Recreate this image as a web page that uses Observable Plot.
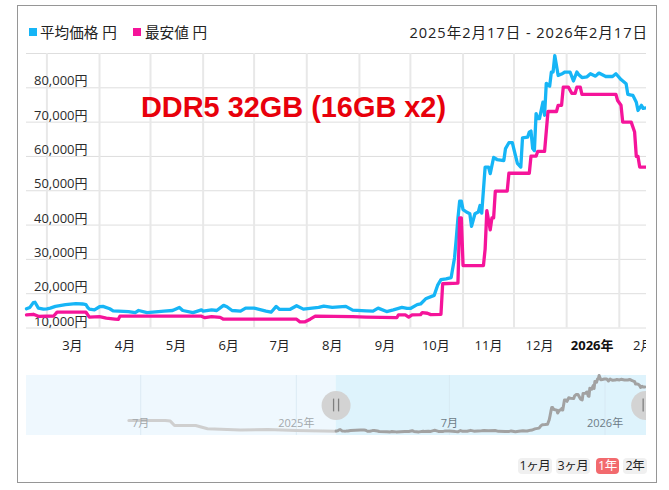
<!DOCTYPE html>
<html><head><meta charset="utf-8">
<script src="https://cdn.jsdelivr.net/npm/d3@7"></script>
<script src="https://cdn.jsdelivr.net/npm/@observablehq/plot@0.6"></script>
<style>
html,body{margin:0;padding:0;background:#fff}
#page{position:relative;width:669px;height:490px;overflow:hidden;font-family:"Open Sans","Noto Sans CJK JP",sans-serif;color:#222}
#box{position:absolute;left:17px;top:5px;width:638px;height:476px;border:1px solid #969696;box-sizing:content-box}
#main,#nav{position:absolute;left:0}
#main{top:0}#nav{top:370px}
.lg{position:absolute;top:21px;font-size:14.6px;line-height:22px;white-space:nowrap}
.sw{position:absolute;top:28px;width:8px;height:8px}
#range{position:absolute;top:21px;right:21px;font-size:14.6px;line-height:22px;white-space:nowrap;letter-spacing:.95px}
#title{position:absolute;left:141px;top:90px;font:bold 28.9px/34px "Liberation Sans",sans-serif;color:#e8000b;white-space:nowrap}
.btn{position:absolute;top:458px;height:16px;line-height:16px;font-size:12.5px;text-align:center;background:#f0f0f0;border-radius:4px;color:#222;white-space:nowrap;letter-spacing:-.4px}
.btn.on{background:#f26a6e;color:#fff}
</style></head><body>
<div id="page">
<div id="box"></div>
<div id="main"></div><div id="nav"></div>
<div class="sw" style="left:29px;background:#16b5f6"></div><div class="lg" style="left:40px">平均価格 円</div>
<div class="sw" style="left:133px;background:#f5149a"></div><div class="lg" style="left:145px">最安値 円</div>
<div id="range">2025年2月17日 - 2026年2月17日</div>
<div id="title">DDR5 32GB (16GB x2)</div>
<div class="btn" style="left:518px;width:34px">1ヶ月</div>
<div class="btn" style="left:556px;width:34px">3ヶ月</div>
<div class="btn on" style="left:596px;width:23px">1年</div>
<div class="btn" style="left:623px;width:24px">2年</div>
</div>
<script>
const avgPoints = [
["2025-02-17",15600],["2025-02-19",16000],["2025-02-21",17400],["2025-02-22",17500],["2025-02-24",15800],["2025-02-27",15500],
["2025-03-01",15600],["2025-03-03",15800],["2025-03-06",16300],["2025-03-12",16800],["2025-03-18",17100],["2025-03-22",17000],["2025-03-24",16800],["2025-03-25",16000],["2025-03-26",15500],["2025-03-29",15300],
["2025-04-01",16200],["2025-04-03",16300],["2025-04-07",15600],["2025-04-09",15000],["2025-04-18",14800],["2025-04-22",14500],["2025-04-24",15100],["2025-04-29",14500],
["2025-05-09",14900],["2025-05-14",15100],["2025-05-18",16000],["2025-05-20",15100],["2025-05-26",14500],["2025-05-31",15300],
["2025-06-01",14900],["2025-06-06",15300],["2025-06-09",15100],["2025-06-13",16600],["2025-06-15",16200],["2025-06-18",15100],["2025-06-23",14900],["2025-06-26",15800],
["2025-07-01",15800],["2025-07-08",14900],["2025-07-11",14600],["2025-07-14",16300],["2025-07-16",15400],["2025-07-22",15400],["2025-07-26",16500],["2025-07-30",15500],
["2025-08-08",16000],["2025-08-11",16400],["2025-08-16",16000],["2025-08-24",16300],["2025-08-28",15200],
["2025-09-05",15000],["2025-09-09",14900],["2025-09-12",15800],["2025-09-17",14800],["2025-09-21",15300],["2025-09-26",16000],["2025-09-29",15700],
["2025-10-01",15700],["2025-10-05",16800],["2025-10-07",17000],["2025-10-10",18500],["2025-10-15",19500],["2025-10-17",22400],["2025-10-19",24100],["2025-10-22",24300],["2025-10-25",24700],["2025-10-27",30500],["2025-10-28",36000],["2025-10-29",42000],["2025-10-30",47000],["2025-10-31",47000],
["2025-11-01",44500],["2025-11-03",43800],["2025-11-05",43300],["2025-11-06",39600],["2025-11-08",43300],["2025-11-10",43800],["2025-11-11",45700],["2025-11-12",43500],["2025-11-14",56900],["2025-11-16",56900],["2025-11-17",55000],["2025-11-19",59700],["2025-11-21",59100],["2025-11-25",58800],["2025-11-26",62300],["2025-11-28",64000],["2025-11-30",64000],
["2025-12-01",62000],["2025-12-03",58000],["2025-12-05",56900],["2025-12-06",65400],["2025-12-09",65600],["2025-12-10",67100],["2025-12-11",67400],["2025-12-12",62300],["2025-12-13",61700],["2025-12-14",72500],["2025-12-15",71000],["2025-12-16",71000],["2025-12-18",75800],["2025-12-19",72000],["2025-12-20",81300],["2025-12-22",80500],["2025-12-23",84600],["2025-12-24",84600],["2025-12-25",89400],["2025-12-27",83600],["2025-12-29",84000],["2025-12-31",84600],
["2026-01-03",84600],["2026-01-05",82000],["2026-01-07",84600],["2026-01-08",83900],["2026-01-10",83000],["2026-01-13",83200],["2026-01-15",84100],["2026-01-18",83400],["2026-01-20",84300],["2026-01-24",83300],["2026-01-28",83300],["2026-01-30",84100],
["2026-02-02",82400],["2026-02-05",81200],["2026-02-06",78100],["2026-02-08",77900],["2026-02-09",77800],["2026-02-11",75800],["2026-02-12",73400],["2026-02-14",74900],["2026-02-15",74000],["2026-02-17",74200]
];
const minPoints = [
["2025-02-17",13850],["2025-02-21",14000],["2025-02-24",13400],["2025-03-05",13500],["2025-03-07",14600],["2025-03-24",14600],["2025-03-26",13150],
["2025-04-01",13300],["2025-04-05",12900],["2025-04-10",12600],["2025-04-12",12500],["2025-04-13",13440],["2025-05-31",13440],
["2025-06-02",13000],["2025-06-06",13300],["2025-06-11",13100],["2025-06-13",12570],["2025-07-26",12570],["2025-07-28",11800],["2025-07-31",11800],
["2025-08-03",12570],["2025-08-06",13440],["2025-08-28",13300],["2025-09-05",13150],["2025-09-23",13000],["2025-09-24",13850],["2025-09-28",13850],["2025-09-30",13200],
["2025-10-02",13850],["2025-10-07",13900],["2025-10-08",14500],["2025-10-11",14300],["2025-10-13",13900],["2025-10-19",14000],["2025-10-20",22900],["2025-10-29",23100],["2025-10-30",42100],["2025-10-31",42100],
["2025-11-01",28200],["2025-11-13",28200],["2025-11-14",33000],["2025-11-15",44200],["2025-11-17",38600],["2025-11-18",42100],["2025-11-19",42100],["2025-11-20",49900],["2025-11-27",49900],["2025-11-28",55100],
["2025-12-10",55100],["2025-12-11",60100],["2025-12-14",60100],["2025-12-15",61500],["2025-12-19",61500],["2025-12-21",73100],["2025-12-26",73100],["2025-12-27",74900],["2025-12-29",74900],["2025-12-30",80200],
["2026-01-02",80200],["2026-01-04",78400],["2026-01-06",78400],["2026-01-07",80200],["2026-01-09",80200],["2026-01-10",78100],["2026-01-30",78100],["2026-01-31",76300],
["2026-02-02",74900],["2026-02-03",70000],["2026-02-08",70000],["2026-02-10",67100],["2026-02-11",60000],["2026-02-12",60000],["2026-02-13",56900],["2026-02-17",56900]
];
const navEarly = [
["2024-06-17",29600],["2024-07-30",29600],["2024-08-05",28800],["2024-08-10",23000],["2024-09-04",23000],["2024-09-18",18600],["2024-10-27",17000],["2024-11-28",17700],["2025-01-01",16300],["2025-02-17",15500]
];
const yGrid = [10000,20000,30000,40000,50000,60000,70000,80000,90000];
const yLabels = [10000,20000,30000,40000,50000,60000,70000,80000];
const monthStarts = ["2025-03-01","2025-04-01","2025-05-01","2025-06-01","2025-07-01","2025-08-01","2025-09-01","2025-10-01","2025-11-01","2025-12-01","2026-01-01","2026-02-01"];
const monthLabelDates = ["2025-03-16","2025-04-16","2025-05-16","2025-06-16","2025-07-16","2025-08-16","2025-09-16","2025-10-16","2025-11-16","2025-12-16","2026-02-15"];
const monthLabels = ["3月","4月","5月","6月","7月","8月","9月","10月","11月","12月","2月"];
const yearLabelDates = ["2026-01-16"];
const yearLabels = ["2026年"];
const navTickDates = ["2024-07-01","2025-01-01","2025-07-01","2026-01-01"];
const navTickLabels = ["7月","2025年","7月","2026年"];
const navBands = [["2024-02-17","2025-02-17","#eff8fe"],["2025-02-17","2026-02-19","#def3fc"]];
const handleDates = ["2025-02-17","2026-02-18"];
const D = s => new Date(s);
const rows = a => a.map(([d,v]) => ({date:D(d),value:v}));
const mono = '"Open Sans","Noto Sans CJK JP",sans-serif';

const mainPlot = Plot.plot({
  width:646, height:360, marginLeft:26, marginRight:0, marginTop:53, marginBottom:32.5,
  style:{background:"transparent",fontFamily:mono},
  x:{type:"utc",domain:[D("2025-02-17"),D("2026-02-17")],axis:null},
  y:{domain:[10000,90000],axis:null},
  marks:[
    Plot.ruleY(yGrid,{y:d=>d,stroke:"#dedede",strokeWidth:1}),
    Plot.ruleX(monthStarts,{x:D,stroke:"#e8e8e8",strokeWidth:2}),
    Plot.text(yLabels,{y:d=>d,x:()=>D("2025-02-17"),text:d=>d3.format(",")(d)+"円",dx:61,dy:-2.5,textAnchor:"end",lineAnchor:"bottom",fontSize:13,fill:"#2b2b2b"}),
    Plot.line(rows(avgPoints),{x:"date",y:"value",stroke:"#16b5f6",strokeWidth:3.3,strokeLinejoin:"round"}),
    Plot.line(rows(minPoints),{x:"date",y:"value",stroke:"#f5149a",strokeWidth:3.3,strokeLinejoin:"round"}),
    Plot.text(monthLabels.map((t,i)=>({t,d:D(monthLabelDates[i])})),{x:"d",frameAnchor:"bottom",text:"t",dy:22,fontSize:13,fill:"#222"}),
    Plot.text(yearLabels.map((t,i)=>({t,d:D(yearLabelDates[i])})),{x:"d",frameAnchor:"bottom",text:"t",dy:22,fontSize:13,fontWeight:"bold",fill:"#111"})
  ]
});
document.getElementById("main").append(mainPlot);

const navPlot = Plot.plot({
  width:646, height:70, marginLeft:26, marginRight:0, marginTop:5, marginBottom:5,
  style:{background:"transparent",fontFamily:mono},
  x:{type:"utc",domain:[D("2024-02-17"),D("2026-02-19")],axis:null},
  y:{domain:[9700,89300],axis:null},
  marks:[
    Plot.rectY(navBands,{x1:d=>D(d[0]),x2:d=>D(d[1]),y1:9700,y2:89300,fill:d=>d[2]}),
    Plot.ruleX(navTickDates,{x:D,stroke:"#d4e6ef",strokeWidth:1,strokeOpacity:.7}),
    Plot.line(rows(navEarly),{x:"date",y:"value",stroke:"#cfcfcf",strokeWidth:3}),
    Plot.line(rows(avgPoints),{x:"date",y:"value",stroke:"#a2a2a2",strokeWidth:3}),
    Plot.text(navTickLabels.map((t,i)=>({t,d:D(navTickDates[i]),i})),{x:"d",frameAnchor:"top",dy:44,text:"t",fontSize:11,
      fill:d=>d.i<2?"#a3a8ac":"#6d7c87"}),
    Plot.dot(handleDates,{x:D,frameAnchor:"middle",r:14.5,fill:"#d3d3d3"}),
    Plot.ruleX(handleDates,{x:D,dx:-2.5,y1:41000,y2:58000,stroke:"#808080",strokeWidth:1.3}),
    Plot.ruleX(handleDates,{x:D,dx:2.5,y1:41000,y2:58000,stroke:"#808080",strokeWidth:1.3})
  ]
});
document.getElementById("nav").append(navPlot);
</script>
</body></html>
